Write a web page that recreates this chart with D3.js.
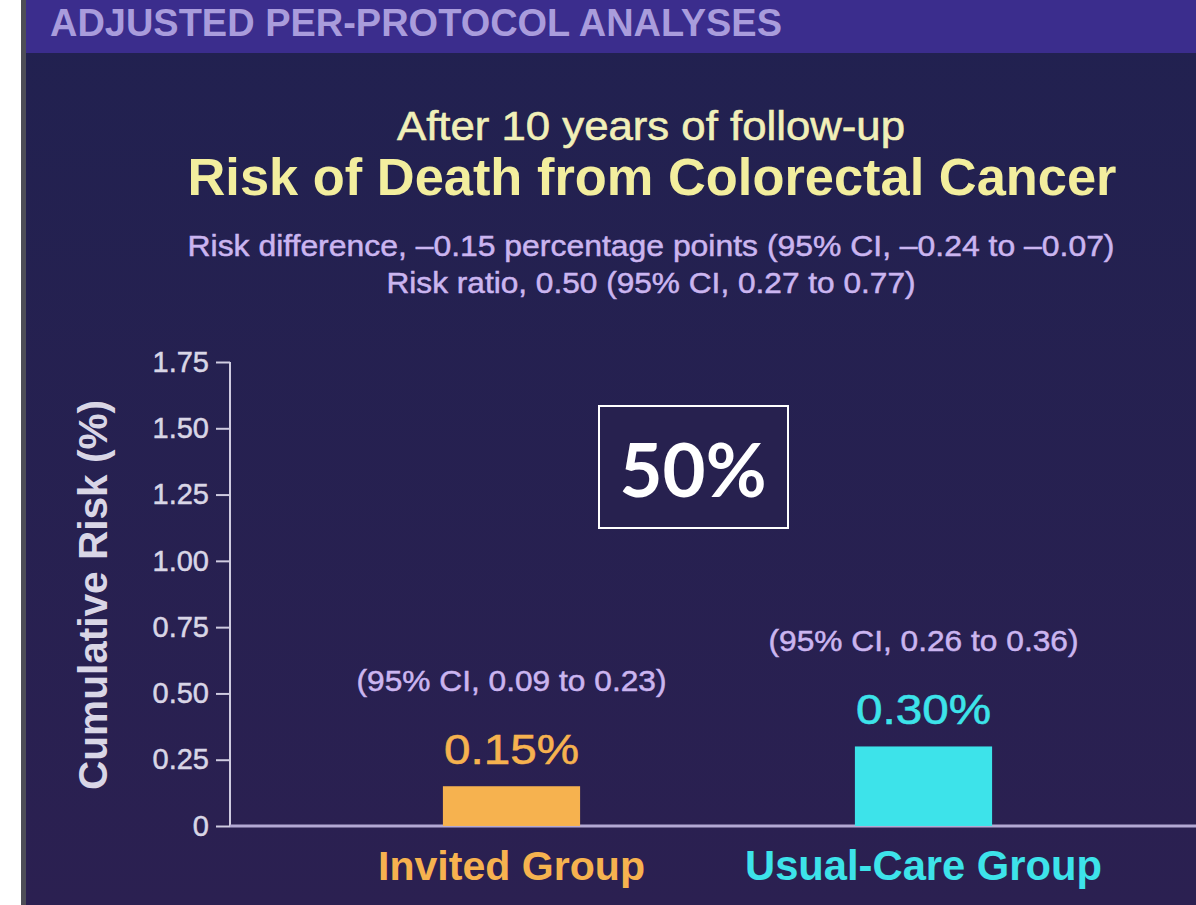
<!DOCTYPE html>
<html lang="en">
<head>
  <meta charset="UTF-8">
  <title>Risk of Death from Colorectal Cancer</title>
  <style>
    body {
      margin: 0;
      background: #fff;
      overflow: hidden;
    }
    svg {
      display: block;
      font-family: "Liberation Sans", Arial, sans-serif;
    }
    .tick text {
      fill: #d9d6e6;
      font-size: 29px;
      stroke: #d9d6e6;
      stroke-width: 0.5px;
    }
    .tick line, .domain {
      stroke: #cfcbe0;
      stroke-width: 2px;
    }
  </style>
</head>
<body>
  <svg width="1196" height="905"></svg>

  <script src="https://d3js.org/d3.v7.min.js"></script>
  <script>
    // chart data
    const groups = ["Invited Group", "Usual-Care Group"];
    const risks = [0.15, 0.30];
    const riskLabels = ["0.15%", "0.30%"];
    const ciLabels = ["(95% CI, 0.09 to 0.23)", "(95% CI, 0.26 to 0.36)"];
    const colors = ["#f6b24f", "#3de3ea"];
    const yTicks = [0, 0.25, 0.5, 0.75, 1.0, 1.25, 1.5, 1.75];
    const yTickLabels = ["0", "0.25", "0.50", "0.75", "1.00", "1.25", "1.50", "1.75"];

    const svg = d3.select("svg");
    const W = 1196, H = 905;

    // pick a font size so the text is about w wide, then pin it to w exactly
    function fit(sel, w, k = 1) {
      sel.attr("font-size", 100);
      const len = sel.node().getComputedTextLength();
      sel.attr("font-size", 100 * w / len * k)
        .attr("textLength", w)
        .attr("lengthAdjust", "spacingAndGlyphs");
      return sel;
    }

    // background
    const defs = svg.append("defs");
    const grad = defs.append("linearGradient")
      .attr("id", "bg").attr("x1", 0).attr("y1", 0).attr("x2", 0).attr("y2", 1);
    grad.append("stop").attr("offset", "0%").attr("stop-color", "#212150");
    grad.append("stop").attr("offset", "100%").attr("stop-color", "#2b2051");

    svg.append("rect").attr("x", 21).attr("y", 0).attr("width", W - 21).attr("height", H)
      .attr("fill", "url(#bg)");
    svg.append("rect").attr("x", 21).attr("y", 0).attr("width", 5).attr("height", H)
      .attr("fill", "#4e4e58");
    svg.append("rect").attr("x", 26).attr("y", 0).attr("width", W - 26).attr("height", 53)
      .attr("fill", "#3b2d8d");

    // header band text
    fit(svg.append("text")
      .attr("x", 50).attr("y", 36)
      .attr("fill", "#a99cdc").attr("font-weight", "bold")
      .text("ADJUSTED PER-PROTOCOL ANALYSES"), 732);

    // titles
    fit(svg.append("text")
      .attr("x", 651).attr("y", 140).attr("text-anchor", "middle")
      .attr("fill", "#f1efb8").attr("stroke", "#f1efb8").attr("stroke-width", 0.6)
      .text("After 10 years of follow-up"), 508, 0.94);
    fit(svg.append("text")
      .attr("x", 652).attr("y", 195).attr("text-anchor", "middle")
      .attr("fill", "#f3ee9e").attr("font-weight", "bold")
      .text("Risk of Death from Colorectal Cancer"), 929);
    fit(svg.append("text")
      .attr("x", 651).attr("y", 256).attr("text-anchor", "middle")
      .attr("fill", "#cbb5f0").attr("stroke", "#cbb5f0").attr("stroke-width", 0.5)
      .text("Risk difference, \u20130.15 percentage points (95% CI, \u20130.24 to \u20130.07)"), 927, 0.92);
    fit(svg.append("text")
      .attr("x", 651).attr("y", 293).attr("text-anchor", "middle")
      .attr("fill", "#cbb5f0").attr("stroke", "#cbb5f0").attr("stroke-width", 0.5)
      .text("Risk ratio, 0.50 (95% CI, 0.27 to 0.77)"), 529, 0.92);

    // scales
    const y = d3.scaleLinear().domain([0, 1.75]).range([826, 362]);
    const x = d3.scaleBand().domain(groups)
      .range([305.5, 1129.5]).paddingInner(0.667).paddingOuter(0.3335);

    // y axis
    const yAxis = svg.append("g")
      .attr("transform", "translate(230,0)")
      .call(d3.axisLeft(y).tickValues(yTicks)
        .tickFormat((d, i) => yTickLabels[i])
        .tickSize(14).tickSizeOuter(0).tickPadding(7));
    yAxis.select(".domain").attr("d", `M0,${y(1.75)}V${y(0)}`);

    // x baseline
    svg.append("line")
      .attr("x1", 230).attr("x2", W)
      .attr("y1", y(0)).attr("y2", y(0))
      .attr("stroke", "#b3a9d4").attr("stroke-width", 3);

    // y axis title
    fit(svg.append("text")
      .attr("transform", `translate(107,${(400 + 790) / 2}) rotate(-90)`)
      .attr("text-anchor", "middle")
      .attr("fill", "#d9d6e6").attr("font-weight", "bold")
      .text("Cumulative Risk (%)"), 390);

    // bars
    svg.append("g").selectAll("rect")
      .data(groups)
      .join("rect")
      .attr("x", d => x(d))
      .attr("y", (d, i) => y(risks[i]))
      .attr("width", x.bandwidth())
      .attr("height", (d, i) => y(0) - y(risks[i]))
      .attr("fill", (d, i) => colors[i]);

    // value labels
    svg.append("g").selectAll("text")
      .data(groups)
      .join("text")
      .attr("x", d => x(d) + x.bandwidth() / 2)
      .attr("y", (d, i) => y(risks[i]) - 22)
      .attr("text-anchor", "middle")
      .attr("fill", (d, i) => colors[i])
      .attr("stroke", (d, i) => colors[i]).attr("stroke-width", 0.6)
      .text((d, i) => riskLabels[i])
      .each(function () { fit(d3.select(this), 135, 0.9); });

    // confidence interval labels
    svg.append("g").selectAll("text")
      .data(groups)
      .join("text")
      .attr("x", d => x(d) + x.bandwidth() / 2)
      .attr("y", (d, i) => y(risks[i]) - 95)
      .attr("text-anchor", "middle")
      .attr("fill", "#cbb5f0")
      .attr("stroke", "#cbb5f0").attr("stroke-width", 0.5)
      .text((d, i) => ciLabels[i])
      .each(function () { fit(d3.select(this), 310, 0.92); });

    // category labels
    const catWidths = [267, 357];
    svg.append("g").selectAll("text")
      .data(groups)
      .join("text")
      .attr("x", d => x(d) + x.bandwidth() / 2)
      .attr("y", 880)
      .attr("text-anchor", "middle")
      .attr("fill", (d, i) => colors[i])
      .attr("font-weight", "bold")
      .text(d => d)
      .each(function (d, i) { fit(d3.select(this), catWidths[i]); });

    // 50% callout box
    svg.append("rect")
      .attr("x", 599).attr("y", 406)
      .attr("width", 189).attr("height", 122)
      .attr("fill", "#27214f")
      .attr("stroke", "#ffffff").attr("stroke-width", 2);
    fit(svg.append("text")
      .attr("x", 693).attr("y", 497).attr("text-anchor", "middle")
      .attr("fill", "#ffffff")
      .attr("font-family", "Lato, 'Open Sans', sans-serif")
      .attr("font-weight", "bold")
      .text("50%"), 147);
  </script>
</body>
</html>
